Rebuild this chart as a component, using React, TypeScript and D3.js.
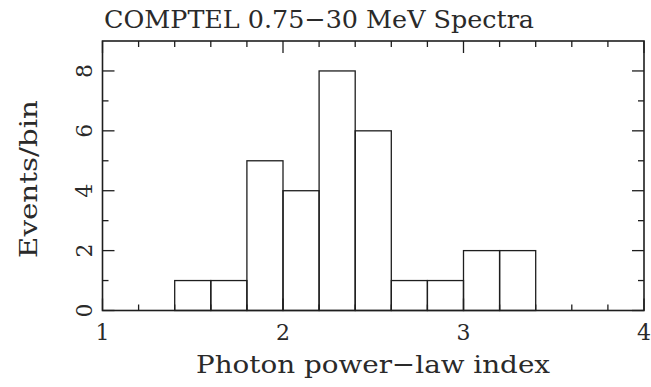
import React from "react";
import * as d3 from "d3";

const binStarts = [1.0, 1.2, 1.4, 1.6, 1.8, 2.0, 2.2, 2.4, 2.6, 2.8, 3.0, 3.2, 3.4, 3.6, 3.8];
const counts = [0, 0, 1, 1, 5, 4, 8, 6, 1, 1, 2, 2, 0, 0, 0];
const binWidth = 0.2;
const xMajorTicks = [1, 2, 3, 4];
const yMajorTicks = [0, 2, 4, 6, 8];
const titleText = "COMPTEL 0.75\u221230 MeV Spectra";
const xLabelText = "Photon power\u2212law index";
const yLabelText = "Events/bin";

const W = 651;
const H = 387;
const L = 102.5, R = 644, T = 41, B = 310.5;
const FONT = "'DejaVu Serif', 'Liberation Serif', serif";
const INK = "#1e1e1e";
const TXT = "#2a2a2a";

export default function App() {
  const x = d3.scaleLinear().domain([1, 4]).range([L, R]);
  const y = d3.scaleLinear().domain([0, 9]).range([B, T]);
  const xMinor = d3.range(1, 4.0001, 0.2).filter((v) => Math.abs(v - Math.round(v)) > 1e-6);
  const yMinor = [1, 3, 5, 7];

  return (
    <svg width={W} height={H} style={{ position: "absolute", left: 0, top: 0, background: "#fff" }}>
      <rect x={0} y={0} width={W} height={H} fill="#fff" />
      {binStarts.map((b, i) =>
        counts[i] > 0 ? (
          <rect
            key={i}
            x={x(b)}
            y={y(counts[i])}
            width={x(b + binWidth) - x(b)}
            height={y(0) - y(counts[i])}
            fill="none"
            stroke={INK}
            strokeWidth={1.3}
          />
        ) : null
      )}
      {xMajorTicks.map((v) => (
        <g key={"xm" + v}>
          <line x1={x(v)} x2={x(v)} y1={B} y2={B - 12} stroke={INK} strokeWidth={1.3} />
          <line x1={x(v)} x2={x(v)} y1={T} y2={T + 12} stroke={INK} strokeWidth={1.3} />
        </g>
      ))}
      {xMinor.map((v, i) => (
        <g key={"xn" + i}>
          <line x1={x(v)} x2={x(v)} y1={B} y2={B - 6} stroke={INK} strokeWidth={1.3} />
          <line x1={x(v)} x2={x(v)} y1={T} y2={T + 6} stroke={INK} strokeWidth={1.3} />
        </g>
      ))}
      {yMajorTicks.map((v) => (
        <g key={"ym" + v}>
          <line x1={L} x2={L + 12} y1={y(v)} y2={y(v)} stroke={INK} strokeWidth={1.3} />
          <line x1={R} x2={R - 12} y1={y(v)} y2={y(v)} stroke={INK} strokeWidth={1.3} />
        </g>
      ))}
      {yMinor.map((v) => (
        <g key={"yn" + v}>
          <line x1={L} x2={L + 6} y1={y(v)} y2={y(v)} stroke={INK} strokeWidth={1.3} />
          <line x1={R} x2={R - 6} y1={y(v)} y2={y(v)} stroke={INK} strokeWidth={1.3} />
        </g>
      ))}
      <rect x={L} y={T} width={R - L} height={B - T} fill="none" stroke={INK} strokeWidth={1.6} />
      {xMajorTicks.map((v) => (
        <text key={"xl" + v} x={x(v)} y={340} textAnchor="middle" fontFamily={FONT} fontSize={22} fill={TXT}>
          {v}
        </text>
      ))}
      {yMajorTicks.map((v) => (
        <text
          key={"yl" + v}
          transform={`translate(92,${y(v)}) rotate(-90)`}
          textAnchor="middle"
          fontFamily={FONT}
          fontSize={22}
          fill={TXT}
        >
          {v}
        </text>
      ))}
      <text x={104} y={28} fontFamily={FONT} fontSize={25} fill={TXT} textLength={430} lengthAdjust="spacingAndGlyphs">
        {titleText}
      </text>
      <text x={196} y={373} fontFamily={FONT} fontSize={25} fill={TXT} textLength={354} lengthAdjust="spacingAndGlyphs">
        {xLabelText}
      </text>
      <text
        transform={`translate(37,258) rotate(-90)`}
        fontFamily={FONT}
        fontSize={25}
        fill={TXT}
        textLength={158}
        lengthAdjust="spacingAndGlyphs"
      >
        {yLabelText}
      </text>
    </svg>
  );
}
